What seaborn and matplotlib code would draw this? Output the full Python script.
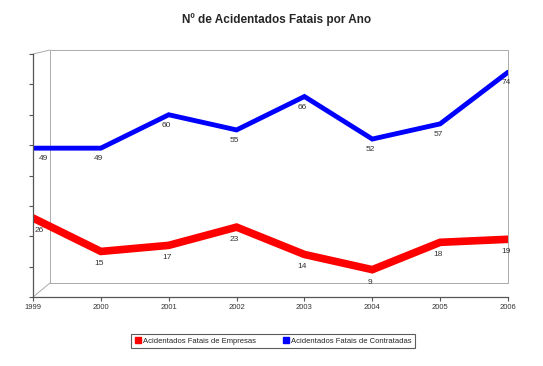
import pandas as pd
import numpy as np
import matplotlib.pyplot as plt
import seaborn as sns
from matplotlib.lines import Line2D

# Dados
anos = [1999, 2000, 2001, 2002, 2003, 2004, 2005, 2006]
empresas = [26, 15, 17, 23, 14, 9, 18, 19]
contratadas = [49, 49, 60, 55, 66, 52, 57, 74]
serie_emp = 'Acidentados Fatais de Empresas'
serie_con = 'Acidentados Fatais de Contratadas'

sns.set_style('white')
plt.rcParams['font.family'] = ['Liberation Sans', 'DejaVu Sans']

df = pd.DataFrame({
    'ano': anos * 2,
    'valor': empresas + contratadas,
    'serie': [serie_emp] * len(anos) + [serie_con] * len(anos),
})

cores = {serie_emp: '#ff0000', serie_con: '#0000ff'}

fig = plt.figure(figsize=(5.43, 3.66), dpi=100)
ax = fig.add_axes([33 / 543, 69 / 366, 475 / 543, 243 / 366])

sns.lineplot(data=df[df['serie'] == serie_con], x='ano', y='valor', color=cores[serie_con],
             linewidth=3.5, ax=ax, legend=False, solid_joinstyle='miter')
sns.lineplot(data=df[df['serie'] == serie_emp], x='ano', y='valor', color=cores[serie_emp],
             linewidth=5.5, ax=ax, legend=False, solid_joinstyle='miter')

# rótulos de dados (o primeiro ponto fica um pouco à direita, como no original)
for i, (x, v) in enumerate(zip(anos, contratadas)):
    dx = 10 if i == 0 else -2
    ax.annotate(str(v), (x, v), xytext=(dx, -7), textcoords='offset pixels',
                ha='center', va='top', fontsize=6, color='#333333')
for i, (x, v) in enumerate(zip(anos, empresas)):
    dx = 6 if i == 0 else -2
    ax.annotate(str(v), (x, v), xytext=(dx, -9), textcoords='offset pixels',
                ha='center', va='top', fontsize=6, color='#333333')

ax.set_xlim(1999, 2006)
ax.set_ylim(0, 80)
ax.set_xticks(anos)
ax.set_xticklabels([str(a) for a in anos], fontsize=5.5, color='#333333')
ax.set_yticks(np.arange(0, 81, 10))
ax.set_yticklabels([])
ax.tick_params(axis='both', direction='out', length=3, width=0.8, color='#555555', pad=2,
               left=True, bottom=True)
ax.set_xlabel('')
ax.set_ylabel('')
for s in ['top', 'right']:
    ax.spines[s].set_visible(False)
for s in ['left', 'bottom']:
    ax.spines[s].set_color('#555555')
    ax.spines[s].set_linewidth(0.9)

# painel de fundo (efeito 3D)
bx0, bx1 = 17 / 475, 1.0
by0, by1 = 14 / 243, 247 / 243
kw = dict(transform=ax.transAxes, clip_on=False, color='#aaaaaa', lw=0.7, zorder=0)
ax.add_line(Line2D([bx0, bx1, bx1, bx0, bx0], [by0, by0, by1, by1, by0], **kw))
ax.add_line(Line2D([0, bx0], [0, by0], **kw))
ax.add_line(Line2D([0, bx0], [1, by1], **kw))

fig.text(277 / 543, 1 - 20 / 366, 'Nº de Acidentados Fatais por Ano', fontsize=8.5,
         fontweight='bold', ha='center', va='center')

handles = [Line2D([], [], marker='s', linestyle='', color=cores[serie_emp], markersize=4),
           Line2D([], [], marker='s', linestyle='', color=cores[serie_con], markersize=4)]
leg = fig.legend(handles, [serie_emp, serie_con], loc='center', bbox_to_anchor=(273 / 543, 25 / 366),
                 ncol=2, fontsize=5.5, frameon=True, fancybox=False, edgecolor='#333333',
                 handletextpad=0.1, columnspacing=3.5, borderpad=0.4, handlelength=1)
leg.get_frame().set_linewidth(0.8)

fig.savefig('out.png', dpi=100)
